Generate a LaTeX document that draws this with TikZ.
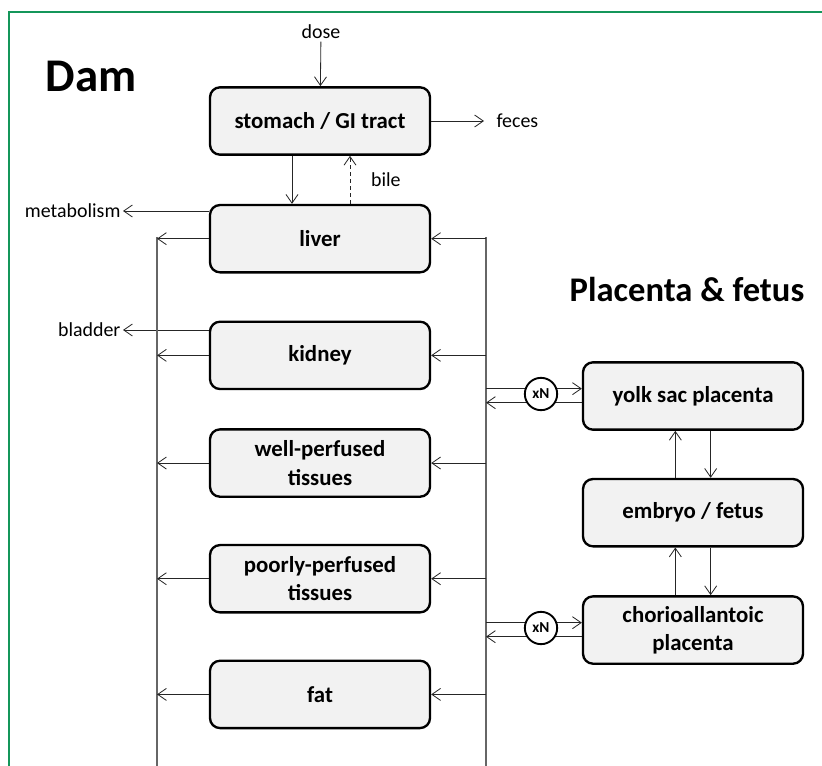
\documentclass[tikz,border=0pt]{standalone}
\usepackage{fontspec}
\setmainfont{Carlito}
\usetikzlibrary{positioning, arrows.meta, calc}
\definecolor{framegreen}{RGB}{20,150,90}
\tikzset{organ/.style={draw, rounded corners=0.3cm, fill=black!5, line width=2pt, minimum width=6.6cm, minimum height=2.02cm, align=center, font=\bfseries\fontsize{19.5pt}{24pt}\selectfont}}

\begin{document}
\begin{tikzpicture}[
		x=0.03cm, y=-0.03cm,
		lbl/.style={inner sep=2pt, font=\fontsize{17pt}{20pt}\selectfont},
		title/.style={font=\bfseries\fontsize{#1}{#1}\selectfont},
		xn/.style={draw, circle, fill=white, line width=1.6pt, minimum size=0.97cm, inner sep=0pt, font=\bfseries\fontsize{13pt}{13pt}\selectfont},
		flow/.style={->, >={Straight Barb[length=2.6mm, width=3.6mm]}, draw=black!85, line width=0.7pt},
		blood/.style={draw=black!60, line width=1pt}
		]
		\useasboundingbox (0,0) rectangle (822,766);
		\draw[framegreen, line width=1.3pt] (9,766) -- (9,12) -- (822,12);

		% Dam
		\node[title=40pt] (dam) at (91,76) {Dam};
		\node[organ] (stomach) at (320,121) {stomach / GI tract};
		\node[organ, below=1.44cm of stomach] (liver) {liver};
		\node[organ, below=1.41cm of liver] (kidney) {kidney};
		\node[organ, below=1.14cm of kidney] (wellperf) {well-perfused\\tissues};
		\node[organ, below=1.38cm of wellperf] (poorperf) {poorly-perfused\\tissues};
		\node[organ, below=1.38cm of poorperf] (fat) {fat};

		\node[lbl] (dose) at (321,32) {dose};
		\node[lbl, anchor=west] (feces) at (494,121) {feces};
		\node[lbl, anchor=east] (metab) at (123,211) {metabolism};
		\node[lbl, anchor=east] (bladder) at (123,330) {bladder};

		\draw[flow] (dose) -- (stomach);
		\draw[flow, shorten >=0.3cm] (stomach) -- (feces);
		\draw[flow] ([xshift=-0.84cm]stomach.south) -- ([xshift=-0.84cm]stomach.south |- liver.north);
		\draw[flow, dashed] ([xshift=0.9cm]stomach.south |- liver.north) -- node[lbl, right=0.55cm] {bile} ([xshift=0.9cm]stomach.south);
		\draw[flow] (liver.west |- metab) -- (metab);
		\draw[flow] (kidney.west |- bladder) -- (bladder);

		% blood
		\coordinate (ltop) at (157,237);
		\coordinate (rtop) at (486,237);
		\draw[blood] (ltop) -- (157,766);
		\draw[blood] (rtop) -- (486,766);
		\foreach \o in {liver,kidney,wellperf,poorperf,fat}{
			\draw[flow] (\o.west) -- (\o.west -| ltop);
			\draw[flow] (\o.east -| rtop) -- (\o.east);
		}

		% Placenta & fetus
		\node[title=29.5pt] (pf) at (687,290) {Placenta \& fetus};
		\node[organ] (yolk) at (693,396) {yolk sac placenta};
		\node[organ, below=1.41cm of yolk] (embryo) {embryo / fetus};
		\node[organ, below=1.43cm of embryo] (chorio) {chorioallantoic\\placenta};

		\foreach \p in {yolk,chorio}{
			\draw[flow] ([yshift=0.22cm]\p.west -| rtop) -- ([yshift=0.22cm]\p.west);
			\draw[flow] ([yshift=-0.2cm]\p.west) -- ([yshift=-0.2cm]\p.west -| rtop);
		}
		\node[xn] (xnA) at (541,394) {xN};
		\node[xn] (xnB) at (541,628) {xN};

		\draw[flow] ([xshift=-0.53cm]embryo.north) -- ([xshift=-0.53cm]yolk.south);
		\draw[flow] ([xshift=0.53cm]yolk.south) -- ([xshift=0.53cm]embryo.north);
		\draw[flow] ([xshift=-0.53cm]chorio.north) -- ([xshift=-0.53cm]embryo.south);
		\draw[flow] ([xshift=0.53cm]embryo.south) -- ([xshift=0.53cm]chorio.north);

	\end{tikzpicture}
\end{document}
